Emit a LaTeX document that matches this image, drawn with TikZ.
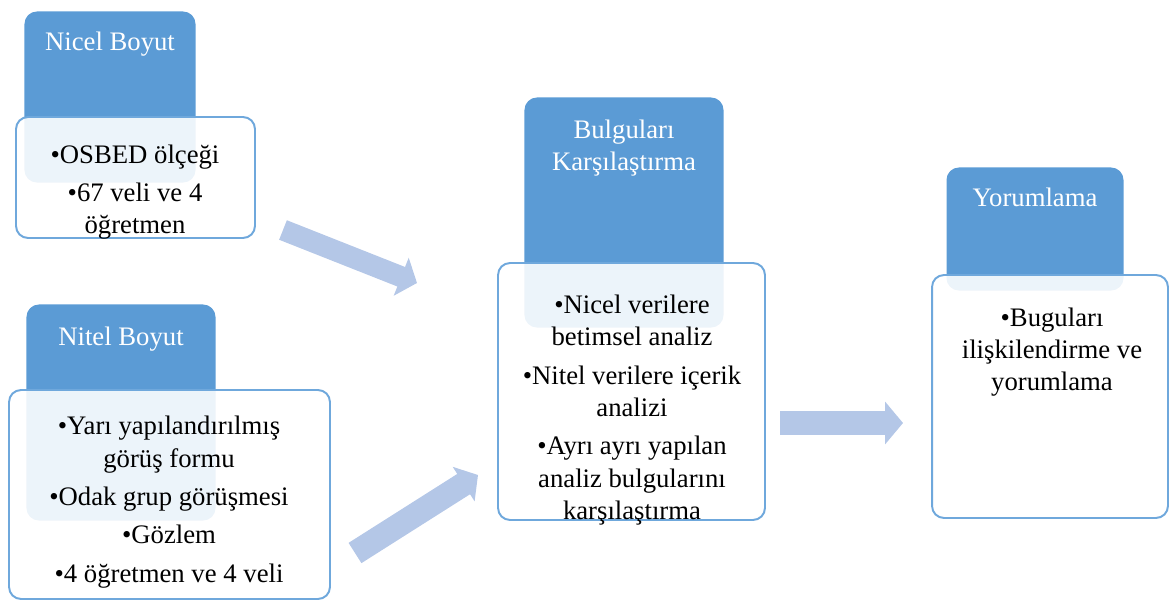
\documentclass[tikz,border=0pt]{standalone}
\usepackage{fontspec}
\setmainfont{Liberation Serif}
\usetikzlibrary{arrows.meta,positioning}
\definecolor{kutumavi}{HTML}{5B9BD5}
\definecolor{kenarmavi}{HTML}{6FA8DC}
\definecolor{okmavi}{HTML}{B4C7E7}

\begin{document}
\begin{tikzpicture}[x=.02cm,y=-.02cm,font=\fontsize{15.2}{18.4}\selectfont,
baslik/.style={rounded corners=.24cm,fill=kutumavi,draw=kutumavi,line width=.6pt},
icerik/.style={rounded corners=.24cm,fill=white,fill opacity=.89,draw=kenarmavi,line width=1.1pt},
ad/.style={text=white,align=center,inner sep=0pt},
liste/.style={align=center,inner sep=0pt},
ok/.style={okmavi,line width=.48cm,-{Triangle[length=.34cm,width=.8cm]}}]
\useasboundingbox (0,0) rectangle (1170,601);
\foreach \ad/\x/\y/\w/\h in {nicelBas/110/97/3.4/3.4,nitelBas/121/412.5/3.76/4.3,
bulgBas/624/212.5/3.96/4.58,yorumBas/1035/229/3.52/2.44}
\node[baslik,minimum width=\w cm,minimum height=\h cm] (\ad) at (\x,\y) {};
\foreach \ad/\x/\y/\w/\h in {nicelKutu/135.5/177.5/4.78/2.42,nitelKutu/169.5/494.5/6.42/4.18,
bulgKutu/631.5/391.5/5.34/5.14,yorumKutu/1050/396.5/4.72/4.86}
\node[icerik,minimum width=\w cm,minimum height=\h cm] (\ad) at (\x,\y) {};
\node[ad,below=.4cm of nicelBas.north] (nicelAd) {Nicel Boyut};
\node[ad,below=.44cm of nitelBas.north] (nitelAd) {Nitel Boyut};
\node[ad,below=.44cm of bulgBas.north] (bulgAd) {Bulguları\\Karşılaştırma};
\node[ad,below=.4cm of yorumBas.north] (yorumAd) {Yorumlama};
\node[liste] (nicelListe) at (135,192) {\textbullet OSBED ölçeği\\[3.4pt]\textbullet 67 veli ve 4\\öğretmen};
\node[liste] (nitelListe) at (169,502) {\textbullet Yarı yapılandırılmış\\görüş formu\\[3.4pt]
\textbullet Odak grup görüşmesi\\[3.4pt]\textbullet Gözlem\\[3.4pt]\textbullet 4 öğretmen ve 4 veli};
\node[liste] (bulgListe) at (632,410) {\textbullet Nicel verilere\\betimsel analiz\\[3.4pt]
\textbullet Nitel verilere içerik\\analizi\\[3.4pt]\textbullet Ayrı ayrı yapılan\\analiz bulgularını\\karşılaştırma};
\node[liste] (yorumListe) at (1052,352) {\textbullet Buguları\\ilişkilendirme ve\\yorumlama};
\coordinate (ok1bas) at (283,230);
\coordinate (ok1uc) at (417,283);
\coordinate (ok2bas) at (355,553);
\coordinate (ok2uc) at (478,475);
\coordinate (ok3bas) at (780,423);
\coordinate (ok3uc) at (903,423);
\draw[ok,line width=.42cm] (ok1bas)--(ok1uc);
\draw[ok] (ok2bas)--(ok2uc);
\draw[ok,-{Triangle[length=.36cm,width=.84cm]}] (ok3bas)--(ok3uc);
\end{tikzpicture}
\end{document}
